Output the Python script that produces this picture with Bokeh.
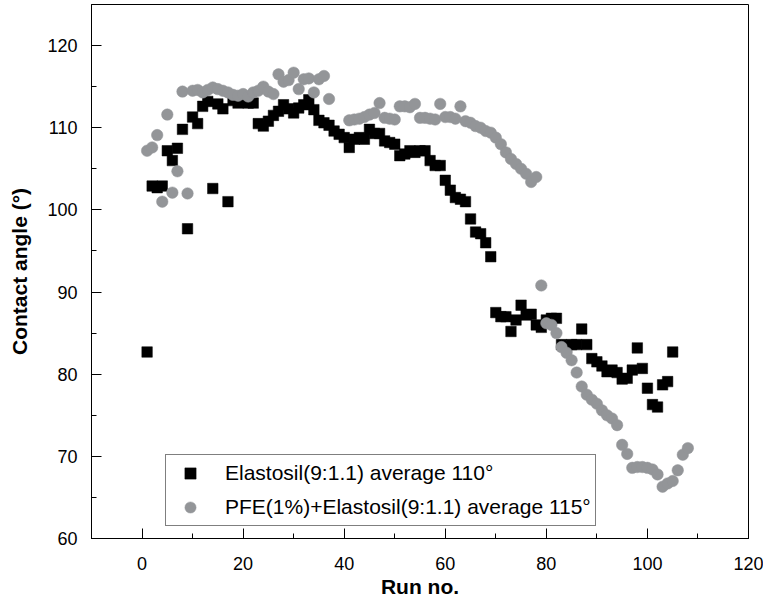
from bokeh.plotting import figure
from bokeh.models import SingleIntervalTicker, Legend, LegendItem, Range1d
from bokeh.embed import file_html
from bokeh.resources import INLINE

# --- data -------------------------------------------------------------
elast_run = list(range(1, 106))
elast_angle = [
    82.7, 102.9, 102.7, 102.9, 107.2, 106.0, 107.5, 109.8, 97.7, 111.3,
    110.5, 112.6, 113.2, 102.6, 112.9, 112.3, 101.0, 113.3, 113.0, 113.2,
    113.0, 113.0, 110.5, 110.2, 110.8, 111.5, 112.0, 112.8, 112.3, 111.8,
    112.4, 112.8, 113.4, 112.2, 110.9, 110.6, 110.3, 109.6, 109.2, 108.8,
    107.6, 108.6, 108.8, 108.6, 109.8, 109.3, 109.3, 108.4, 108.2, 108.0,
    106.6, 106.8, 107.2, 107.0, 107.2, 107.2, 106.0, 105.4, 105.4, 103.6,
    102.4, 101.5, 101.3, 101.0, 98.9, 97.3, 97.1, 96.0, 94.3, 87.5,
    87.0, 87.0, 85.2, 86.6, 88.4, 87.2, 87.3, 86.0, 85.7, 86.6,
    86.8, 86.8, 83.6, 83.3, 83.6, 83.6, 85.5, 83.6, 81.9, 81.5,
    81.0, 80.3, 80.5, 80.2, 79.4, 79.5, 80.5, 83.2, 80.7, 78.3,
    76.3, 76.0, 78.7, 79.1, 82.7,
]

pfe_run = list(range(1, 38)) + list(range(41, 109))
pfe_angle = [
    107.2, 107.6, 109.1, 101.0, 111.6, 102.1, 104.7, 114.4, 102.0, 114.5,
    114.6, 114.3, 114.6, 114.9, 114.7, 114.5, 114.3, 114.0, 113.9, 114.1,
    113.8, 114.3, 114.5, 115.0, 114.4, 114.1, 116.5, 115.6, 115.8, 116.7,
    114.7, 115.9, 116.0, 114.3, 115.9, 116.3, 113.5,
    110.9, 111.0, 111.1, 111.3, 111.6, 111.8, 113.0, 111.2, 111.1, 111.0,
    112.6, 112.6, 112.5, 112.9, 111.2, 111.2, 111.1, 111.0, 112.9, 111.3,
    111.3, 111.1, 112.6, 110.8, 110.6, 110.2, 110.0, 109.6, 109.4, 108.8,
    108.0, 107.0, 106.2, 105.6, 105.0, 104.4, 103.4, 104.0, 90.8, 86.2,
    86.0, 85.0, 83.3, 82.6, 81.7, 80.2, 78.5, 77.5, 76.9, 76.4,
    75.6, 75.0, 74.6, 73.8, 71.4, 70.3, 68.6, 68.7, 68.7, 68.6,
    68.4, 67.8, 66.3, 66.7, 67.0, 68.3, 70.2, 71.0,
]

elast_label = "Elastosil(9:1.1) average 110°"
pfe_label = "PFE(1%)+Elastosil(9:1.1) average 115°"
x_title = "Run no."
y_title = "Contact angle (°)"

FONT = "Liberation Sans"

p = figure(width=763, height=600, output_backend="svg", toolbar_location=None,
           x_range=Range1d(-10, 120), y_range=Range1d(60, 125),
           min_border_left=91, min_border_right=15, min_border_top=4,
           min_border_bottom=60)
p.grid.visible = False
p.outline_line_color = "black"
p.outline_line_width = 1
p.background_fill_color = "white"
p.border_fill_color = "white"

p.xaxis.ticker = SingleIntervalTicker(interval=20, num_minor_ticks=2)
p.yaxis.ticker = SingleIntervalTicker(interval=10, num_minor_ticks=2)

for ax in (p.xaxis[0], p.yaxis[0]):
    ax.major_tick_in = 10
    ax.major_tick_out = 0
    ax.minor_tick_in = 5
    ax.minor_tick_out = 0
    ax.axis_line_color = "black"
    ax.major_tick_line_color = "black"
    ax.minor_tick_line_color = "black"
    ax.major_label_text_font = FONT
    ax.major_label_text_font_size = "18px"
    ax.major_label_text_color = "black"
    ax.axis_label_text_font = FONT
    ax.axis_label_text_font_size = "21px"
    ax.axis_label_text_font_style = "bold"
    ax.axis_label_text_color = "black"

p.xaxis.axis_label = x_title
p.yaxis.axis_label = y_title
p.xaxis.major_label_standoff = 18
p.xaxis.axis_label_standoff = 2
p.yaxis.major_label_standoff = 14
p.yaxis.axis_label_standoff = 13

r1 = p.scatter(elast_run, elast_angle, marker="square", size=10.5,
               fill_color="black", line_color="black", line_width=0.5)
r2 = p.scatter(pfe_run, pfe_angle, marker="circle", size=11.5,
               fill_color="#939598", line_color="#939598", line_width=0.5)

legend = Legend(items=[LegendItem(label=elast_label, renderers=[r1]),
                       LegendItem(label=pfe_label, renderers=[r2])],
                location=(74, 12))
legend.border_line_color = "black"
legend.border_line_width = 1
legend.background_fill_color = "white"
legend.background_fill_alpha = 1
legend.label_text_font = FONT
legend.label_text_font_size = "21px"
legend.label_text_color = "black"
legend.padding = 4
legend.margin = 0
legend.spacing = 6
legend.glyph_width = 40
legend.glyph_height = 28
legend.label_height = 28
legend.label_standoff = 15
p.add_layout(legend, "center")

open("out.html", "w").write(file_html(p, INLINE))
